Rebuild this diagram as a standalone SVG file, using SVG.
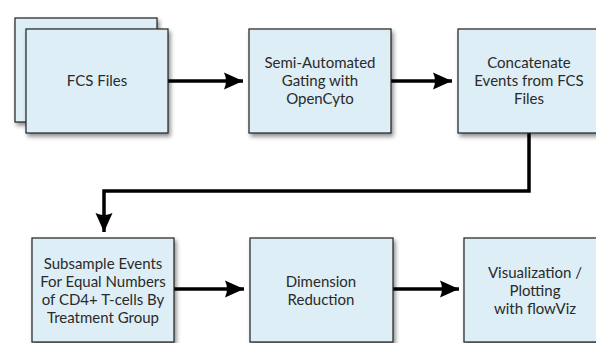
<svg xmlns="http://www.w3.org/2000/svg" width="596" height="343" viewBox="0 0 596 343">
<defs>
<filter id="sh" x="-10%" y="-10%" width="130%" height="130%">
<feDropShadow dx="2" dy="3" stdDeviation="2" flood-color="#000" flood-opacity="0.45"/>
</filter>
<marker id="ah" markerUnits="userSpaceOnUse" markerWidth="21" markerHeight="19" viewBox="0 0 21 19" refX="20" refY="9.5" orient="auto" overflow="visible">
<path d="M1,1 L20,9.5 L1,18 Q5,9.5 1,1 Z" fill="#000"/>
</marker>
<style>
.box{fill:#ddeef6;stroke:#222;stroke-width:1.2;filter:url(#sh)}
.t{font-family:Lato,"Open Sans","Liberation Sans",sans-serif;font-size:15px;fill:#2a2a2a;text-anchor:middle}
.c{fill:none;stroke:#000;stroke-width:3.5;marker-end:url(#ah)}
</style>
</defs>
<rect width="596" height="343" fill="#fff"/>
<g id="connectors">
<path class="c" d="M168,81 H243"/>
<path class="c" d="M391,81 H452"/>
<path class="c" d="M529,133 V191 H104 V232"/>
<path class="c" d="M174,289 H244"/>
<path class="c" d="M393,289 H459"/>
</g>
<g id="fcs">
<rect class="box" x="15" y="18" width="142" height="104"/>
<rect class="box" x="26" y="29" width="142" height="104"/>
<text class="t" x="97" y="86">FCS Files</text>
</g>
<g id="gating">
<rect class="box" x="249" y="29" width="142" height="104"/>
<text class="t" x="320" y="68">Semi-Automated</text>
<text class="t" x="320" y="86">Gating with</text>
<text class="t" x="320" y="104">OpenCyto</text>
</g>
<g id="concat">
<rect class="box" x="458" y="29" width="142" height="104"/>
<text class="t" x="529" y="68">Concatenate</text>
<text class="t" x="529" y="86">Events from FCS</text>
<text class="t" x="529" y="104">Files</text>
</g>
<g id="subsample">
<rect class="box" x="32" y="238" width="142" height="104"/>
<text class="t" x="103" y="269">Subsample Events</text>
<text class="t" x="103" y="287">For Equal Numbers</text>
<text class="t" x="103" y="305">of CD4+ T-cells By</text>
<text class="t" x="103" y="323">Treatment Group</text>
</g>
<g id="dimred">
<rect class="box" x="250" y="238" width="143" height="104"/>
<text class="t" x="321" y="287">Dimension</text>
<text class="t" x="321" y="305">Reduction</text>
</g>
<g id="vis">
<rect class="box" x="464" y="238" width="142" height="104"/>
<text class="t" x="535" y="278">Visualization /</text>
<text class="t" x="535" y="296">Plotting</text>
<text class="t" x="535" y="314">with flowViz</text>
</g>
</svg>
